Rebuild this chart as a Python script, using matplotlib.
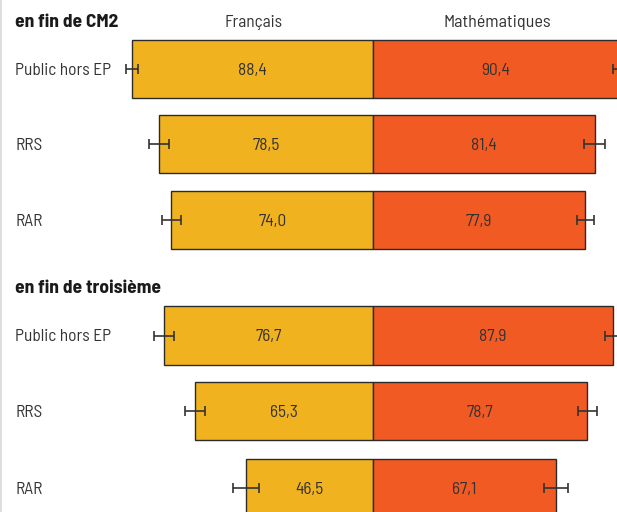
import numpy as np
import matplotlib
matplotlib.use('Agg')
from matplotlib import pyplot as plt

plt.rcParams['font.family'] = ['Barlow Semi Condensed', 'DejaVu Sans']

groups      = ['en fin de CM2', 'en fin de troisième']
categories  = ['Public hors EP', 'RRS', 'RAR']
subjects    = ['Français', 'Mathématiques']

francais    = [88.4, 78.5, 74.0, 76.7, 65.3, 46.5]
maths       = [90.4, 81.4, 77.9, 87.9, 78.7, 67.1]
err_fr      = [2.2, 3.8, 3.5, 3.8, 3.8, 4.8]
err_math    = [2.2, 3.8, 3.2, 2.8, 3.6, 4.3]

c_fr   = '#F0B31F'
c_math = '#F15A22'
c_txt  = '#333333'
c_edge = '#2b2b2b'

# layout (pixel-like units, 617x512 figure)
k        = 2.725          # px per percentage point
x0       = 373            # px position of the zero line
rows_y   = [69, 144, 220, 335.5, 411, 488]
head_y   = [21, 287]
bar_h    = 58.5
fs       = 12.5
dy       = 1.2            # small nudge so the text sits like the original

fig = plt.figure(figsize=(6.17, 5.12), dpi=100)
ax = fig.add_axes([0, 0, 1, 1])
ax.set_xlim(-x0 / k, (617 - x0) / k)
ax.set_ylim(512, 0)
ax.axis('off')

fr = np.array(francais)
ma = np.array(maths)
ax.barh(rows_y, -fr, height=bar_h, color=c_fr, edgecolor=c_edge, linewidth=1)
ax.barh(rows_y, ma, height=bar_h, color=c_math, edgecolor=c_edge, linewidth=1)

ax.errorbar(-fr, rows_y, xerr=err_fr, fmt='none', ecolor=c_txt,
            elinewidth=1.2, capsize=3.6, capthick=1.2)
ax.errorbar(ma, rows_y, xerr=err_math, fmt='none', ecolor=c_txt,
            elinewidth=1.2, capsize=3.6, capthick=1.2)

def fmt(v):
    return ('%.1f' % v).replace('.', ',')

for y, f, m in zip(rows_y, fr, ma):
    ax.text(-f / 2, y + dy, fmt(f), ha='center', va='center', fontsize=fs, color=c_txt)
    ax.text(m / 2, y + dy, fmt(m), ha='center', va='center', fontsize=fs, color=c_txt)

lab_x = (15 - x0) / k
for i, y in enumerate(rows_y):
    ax.text(lab_x, y + dy, categories[i % 3], ha='left', va='center',
            fontsize=fs, color=c_txt)

for g, y in zip(groups, head_y):
    ax.text(lab_x, y + dy, g, ha='left', va='center', fontsize=14,
            fontweight='bold', color='#1a1a1a')

ax.text((253 - x0) / k, head_y[0] + dy, subjects[0], ha='center', va='center',
        fontsize=fs, color=c_txt)
ax.text((497 - x0) / k, head_y[0] + dy, subjects[1], ha='center', va='center',
        fontsize=13, color=c_txt)

# thin border on the left side
fig.add_artist(plt.Line2D([0.002, 0.002], [0, 1], color='#d8d8d8', linewidth=1.2))

fig.savefig('out.png', dpi=100)
